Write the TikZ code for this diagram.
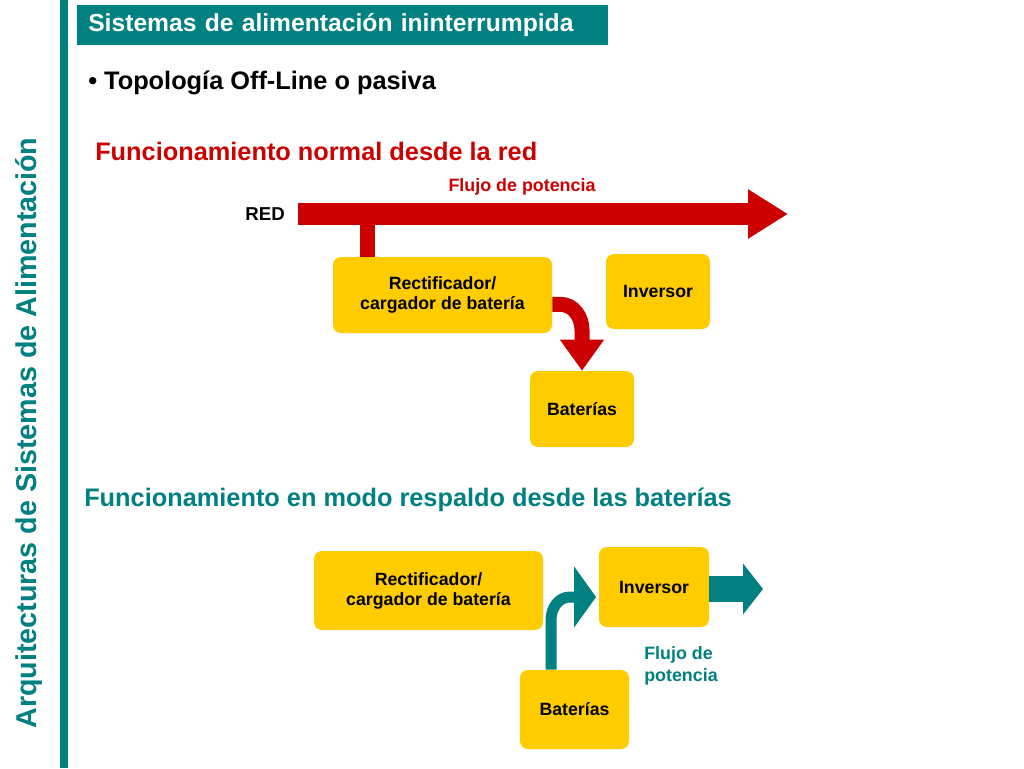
\documentclass[tikz,border=0pt]{standalone}
\usepackage{fontspec}
\setmainfont{Liberation Sans}
\usetikzlibrary{positioning,arrows.meta}
\definecolor{verde}{RGB}{0,128,128}
\definecolor{rojo}{RGB}{204,0,0}
\definecolor{amarillo}{RGB}{255,204,0}

\begin{document}
\begin{tikzpicture}[x=0.75pt,y=-0.75pt,
    caja/.style={fill=amarillo,rounded corners=6pt,align=center,inner sep=2pt,font=\bfseries\fontsize{13.3}{15}\selectfont},
    titulo/.style={font=\bfseries\fontsize{19}{22}\selectfont,anchor=west,inner sep=3pt},
    flujo/.style={font=\bfseries\fontsize{13.4}{17}\selectfont,inner sep=0pt}]
  \useasboundingbox (0,0) rectangle (1024,768);
  \fill[white] (0,0) rectangle (1024,768);
  \fill[verde] (60,0) rectangle (68,768);

  \node[rotate=90,text=verde,font=\bfseries\fontsize{21.5}{26}\selectfont] (lateral) at (29,433) {Arquitecturas de Sistemas de Alimentación};
  \node[fill=verde,text=white,anchor=north west,minimum height=30pt,text width=381.75pt,inner xsep=8.25pt,align=left,
        font=\bfseries\fontsize{18.5}{20}\selectfont] (cabecera) at (77,5) {Sistemas de alimentación ininterrumpida};
  \node[titulo] (topo) at (84,83) {• Topología Off-Line o pasiva};

  % funcionamiento normal
  \node[titulo,text=rojo] (normal) at (91,151) {Funcionamiento normal desde la red};
  \node[flujo,text=rojo] (flujo1) at (522,187) {Flujo de potencia};
  \node[flujo,anchor=east,font=\bfseries\fontsize{14}{17}\selectfont] (red) at (285,214) {RED};
  \coordinate (redfin) at (788,214);
  \coordinate (toma) at (367.5,214);

  \node[caja,minimum width=164.25pt,minimum height=57pt] (rect1) at (442.5,295) {Rectificador/\\cargador de batería};
  \node[caja,minimum width=78pt,minimum height=56.25pt] (inv1) at (658,291.5) {Inversor};
  \node[caja,minimum width=78pt,minimum height=57pt] (bat1) at (582,409) {Baterías};

  \draw[rojo,line width=11.25pt] (toma) -- (toma |- rect1.north);
  \draw[rojo,line width=16.5pt,-{Triangle[length=30pt,width=35pt]},shorten <=9.75pt] (red.east) -- (redfin);
  \draw[rojo,line width=11.25pt,-{Triangle[length=23.25pt,width=31.5pt]}]
    ([yshift=-7pt]rect1.east) -- ++(8,0) to[out=0,in=90] (bat1.north |- 0,330) -- (bat1.north);

  % modo respaldo
  \node[titulo,text=verde] (respaldo) at (80,500) {Funcionamiento en modo respaldo desde las baterías};
  \node[caja,minimum width=171.75pt,minimum height=59.25pt] (rect2) at (428.5,590.5) {Rectificador/\\cargador de batería};
  \node[caja,minimum width=82.5pt,minimum height=60pt] (inv2) at (654,587) {Inversor};
  \node[caja,minimum width=81.75pt,minimum height=59.25pt] (bat2) at (574.5,709.5) {Baterías};
  \node[flujo,text=verde,anchor=north west,align=left] (flujo2) at (644,646) {Flujo de\\potencia};
  \coordinate (salida) at (763,589);

  \draw[verde,line width=8.25pt,-{Triangle[length=16.5pt,width=45pt]}]
    ([xshift=-17.6pt]bat2.north) -- ++(0,-50) to[out=90,in=180] (570,597) -- ([xshift=-2pt,yshift=-7.5pt]inv2.west);
  \draw[verde,line width=19.5pt,-{Triangle[length=15pt,width=37.5pt]}] ([yshift=-1.5pt]inv2.east) -- (salida);
\end{tikzpicture}
\end{document}
